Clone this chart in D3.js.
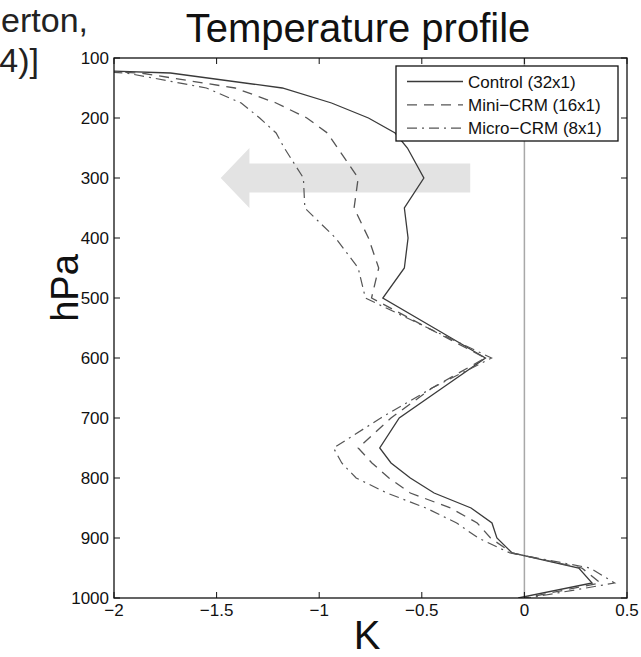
<!DOCTYPE html>
<html>
<head>
<meta charset="utf-8">
<script src="https://cdn.jsdelivr.net/npm/d3@7"></script>
<style>
  html, body { margin: 0; padding: 0; background: #fff; }
  svg { display: block; font-family: "Liberation Sans", Arial, Helvetica, sans-serif; }
</style>
</head>
<body>
<svg id="chart" width="641" height="657"></svg>
<script>
// Pressure levels (hPa) and temperature anomalies (K) for each CRM configuration
const levels = [100, 125, 150, 175, 200, 225, 250, 300, 350, 400, 450, 500, 550, 600, 650, 700, 750, 775, 800, 825, 850, 875, 900, 925, 950, 975, 1000];
const control = [-4.0, -1.725, -1.18, -0.94, -0.76, -0.63, -0.57, -0.49, -0.585, -0.567, -0.585, -0.69, -0.44, -0.19, -0.40, -0.61, -0.705, -0.65, -0.556, -0.44, -0.26, -0.158, -0.134, -0.06, 0.265, 0.33, -0.03];
const mini    = [-3.6, -1.87, -1.41, -1.21, -1.06, -0.96, -0.91, -0.81, -0.83, -0.76, -0.71, -0.745, -0.47, -0.19, -0.45, -0.65, -0.81, -0.743, -0.66, -0.556, -0.36, -0.23, -0.165, -0.06, 0.28, 0.37, 0.0];
const micro   = [-3.4, -1.94, -1.55, -1.38, -1.29, -1.21, -1.17, -1.077, -1.07, -0.92, -0.81, -0.775, -0.47, -0.16, -0.45, -0.70, -0.93, -0.89, -0.82, -0.67, -0.48, -0.33, -0.225, -0.07, 0.32, 0.44, 0.02];

const seriesNames = ["Control (32x1)", "Mini\u2212CRM (16x1)", "Micro\u2212CRM (8x1)"];
const xTicks = [-2, -1.5, -1, -0.5, 0, 0.5];
const yTicks = [100, 200, 300, 400, 500, 600, 700, 800, 900, 1000];

// Shift arrow: from (tailK, centre level) to (tipK, centre level)
const arrowTailK = -0.264, arrowTipK = -1.48, arrowHeadK = -1.34;
const arrowLevel = 300, arrowBodyHalf = 24, arrowHeadHalf = 50;

const svg = d3.select("#chart");
const margin = { left: 114, right: 14, top: 58, bottom: 59 };
const W = 641, H = 657;

const x = d3.scaleLinear().domain([-2, 0.5]).range([margin.left, W - margin.right]);
const y = d3.scaleLinear().domain([100, 1000]).range([margin.top, H - margin.bottom]);

const fmt = d => (d < 0 ? "\u2212" : "") + Math.abs(d);

// citation text (runs off the left edge of the canvas)
const cite = svg.append("g").attr("font-size", 34).attr("fill", "#222").attr("text-anchor", "end");
cite.append("text").attr("x", 88).attr("y", 32).text("[Pritchard, Bretherton,");
cite.append("text").attr("x", 39).attr("y", 72).text("DeMott (2014)]");

// title
svg.append("text").attr("x", 358).attr("y", 42)
  .attr("text-anchor", "middle").attr("font-size", 40).attr("fill", "#111")
  .text("Temperature profile");

// clip to plot area
svg.append("clipPath").attr("id", "plotclip").append("rect")
  .attr("x", x(-2)).attr("y", y(100)).attr("width", x(0.5) - x(-2)).attr("height", y(1000) - y(100));

const plot = svg.append("g").attr("clip-path", "url(#plotclip)");

// grey arrow
const arrowPts = [
  [arrowTailK, arrowLevel - arrowBodyHalf],
  [arrowHeadK, arrowLevel - arrowBodyHalf],
  [arrowHeadK, arrowLevel - arrowHeadHalf],
  [arrowTipK, arrowLevel],
  [arrowHeadK, arrowLevel + arrowHeadHalf],
  [arrowHeadK, arrowLevel + arrowBodyHalf],
  [arrowTailK, arrowLevel + arrowBodyHalf]
];
plot.append("path")
  .attr("d", d3.line().x(d => x(d[0])).y(d => y(d[1]))(arrowPts) + "Z")
  .attr("fill", "#e3e3e3");

// zero line
plot.append("line").attr("x1", x(0)).attr("x2", x(0)).attr("y1", y(100)).attr("y2", y(1000))
  .attr("stroke", "#a8a8a8").attr("stroke-width", 1.5);

const styles = [
  { stroke: "#3a3a3a", dash: null, width: 1.3 },
  { stroke: "#555", dash: "10,7", width: 1.3 },
  { stroke: "#555", dash: "10,5,2,5", width: 1.2 }
];
const allSeries = [control, mini, micro];
const line = d3.line().x(d => x(d[1])).y(d => y(d[0]));

allSeries.forEach((vals, i) => {
  plot.append("path")
    .datum(levels.map((p, j) => [p, vals[j]]))
    .attr("d", line)
    .attr("fill", "none")
    .attr("stroke", styles[i].stroke)
    .attr("stroke-width", styles[i].width)
    .attr("stroke-dasharray", styles[i].dash)
    .attr("stroke-linejoin", "miter");
});

// axes box with inward ticks on all four sides
const axG = svg.append("g").attr("font-size", 17).attr("fill", "#111");
const tickLen = 6;
axG.append("rect").attr("x", x(-2)).attr("y", y(100)).attr("width", x(0.5) - x(-2)).attr("height", y(1000) - y(100))
  .attr("fill", "none").attr("stroke", "#111").attr("stroke-width", 1.3);

xTicks.forEach(t => {
  axG.append("line").attr("x1", x(t)).attr("x2", x(t)).attr("y1", y(1000)).attr("y2", y(1000) - tickLen).attr("stroke", "#111");
  axG.append("line").attr("x1", x(t)).attr("x2", x(t)).attr("y1", y(100)).attr("y2", y(100) + tickLen).attr("stroke", "#111");
  axG.append("text").attr("x", x(t)).attr("y", y(1000) + 18).attr("text-anchor", "middle").text(fmt(t));
});
yTicks.forEach(t => {
  axG.append("line").attr("x1", x(-2)).attr("x2", x(-2) + tickLen).attr("y1", y(t)).attr("y2", y(t)).attr("stroke", "#111");
  axG.append("line").attr("x1", x(0.5)).attr("x2", x(0.5) - tickLen).attr("y1", y(t)).attr("y2", y(t)).attr("stroke", "#111");
  axG.append("text").attr("x", x(-2) - 5).attr("y", y(t) + 6).attr("text-anchor", "end").text(t);
});

// axis titles
svg.append("text").attr("transform", "translate(78, 288) rotate(-90)")
  .attr("text-anchor", "middle").attr("font-size", 38).attr("fill", "#111").text("hPa");
svg.append("text").attr("x", 367).attr("y", 649)
  .attr("text-anchor", "middle").attr("font-size", 40).attr("fill", "#111").text("K");

// legend
const lg = svg.append("g");
const lgX = 396, lgY = 66, lgW = 222, lgH = 75;
lg.append("rect").attr("x", lgX).attr("y", lgY).attr("width", lgW).attr("height", lgH)
  .attr("fill", "#fff").attr("stroke", "#111").attr("stroke-width", 1.3);
seriesNames.forEach((name, i) => {
  const cy = lgY + 15.5 + i * 23.3;
  lg.append("line").attr("x1", lgX + 11).attr("x2", lgX + 67).attr("y1", cy).attr("y2", cy)
    .attr("stroke", styles[i].stroke).attr("stroke-width", styles[i].width)
    .attr("stroke-dasharray", styles[i].dash);
  lg.append("text").attr("x", lgX + 72).attr("y", cy + 6).attr("font-size", 17).attr("fill", "#111").text(name);
});
</script>
</body>
</html>
